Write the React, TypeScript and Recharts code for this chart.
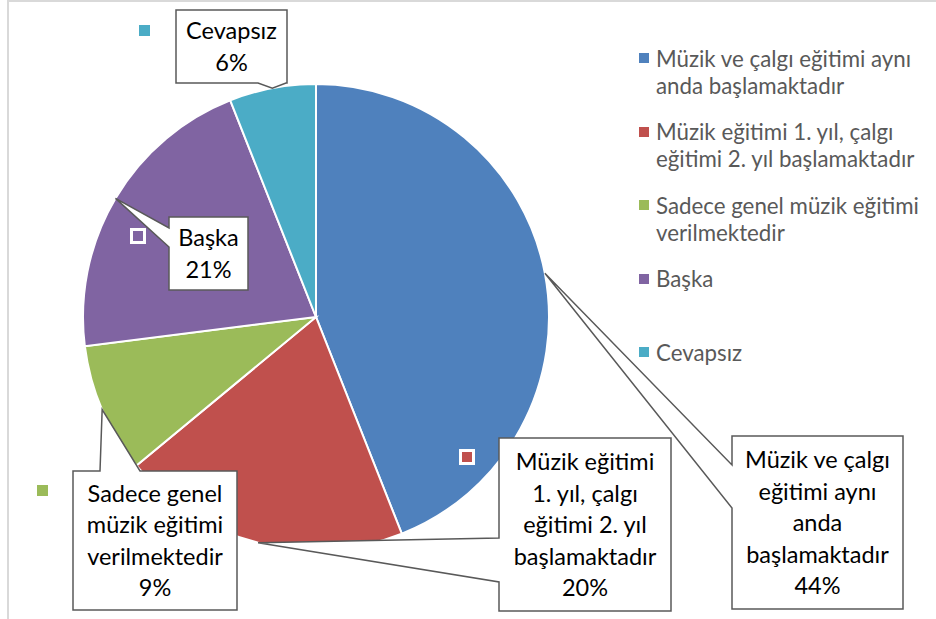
import { PieChart, Pie, Cell, Legend } from 'recharts';

const categories = [
  'Müzik ve çalgı eğitimi aynı anda başlamaktadır',
  'Müzik eğitimi 1. yıl, çalgı eğitimi 2. yıl başlamaktadır',
  'Sadece genel müzik eğitimi verilmektedir',
  'Başka',
  'Cevapsız',
];
const shares = [44, 20, 9, 21, 6];
const colors = ['#4F81BD', '#C0504D', '#9BBB59', '#8064A2', '#4BACC6'];

// line breaks as they appear in the callouts and in the legend
const labelLines = [
  ['Müzik ve çalgı', 'eğitimi aynı', 'anda', 'başlamaktadır'],
  ['Müzik eğitimi', '1. yıl, çalgı', 'eğitimi 2. yıl', 'başlamaktadır'],
  ['Sadece genel', 'müzik eğitimi', 'verilmektedir'],
  ['Başka'],
  ['Cevapsız'],
];
const legendLines = [
  ['Müzik ve çalgı eğitimi aynı', 'anda başlamaktadır'],
  ['Müzik eğitimi 1. yıl, çalgı', 'eğitimi 2. yıl başlamaktadır'],
  ['Sadece genel müzik eğitimi', 'verilmektedir'],
  ['Başka'],
  ['Cevapsız'],
];

const data = categories.map((name, i) => ({ name, value: shares[i] }));

type Callout = {
  x: number;
  y: number;
  w: number;
  h: number;
  side: 'left' | 'top' | 'bottom';
  a: number;
  b: number;
  key: { x: number; y: number; s: number; border: boolean } | null;
};

// manual placement of the callout boxes (like the original)
const callouts: Callout[] = [
  { x: 732, y: 436, w: 171, h: 173, side: 'left', a: 465, b: 508, key: null },
  { x: 499, y: 438, w: 172, h: 173, side: 'left', a: 538, b: 582, key: { x: 459, y: 449, s: 16, border: true } },
  { x: 73, y: 471, w: 164, h: 139, side: 'top', a: 100, b: 140, key: { x: 37, y: 485, s: 11, border: false } },
  { x: 169, y: 217, w: 79, h: 73, side: 'left', a: 228, b: 247, key: { x: 130, y: 228, s: 16, border: true } },
  { x: 176, y: 10, w: 111, h: 73, side: 'bottom', a: 258, b: 286, key: { x: 139, y: 25, s: 11, border: false } },
];

const RADIAN = Math.PI / 180;
const FONT = 'Lato, "Open Sans", sans-serif';

function renderCallout(props: any) {
  const { cx, cy, midAngle, outerRadius, index, percent } = props;
  const c = callouts[index];
  const tx = cx + outerRadius * Math.cos(-midAngle * RADIAN);
  const ty = cy + outerRadius * Math.sin(-midAngle * RADIAN);
  const { x, y, w, h, side, a, b } = c;

  let d = `M${x},${y}`;
  if (side === 'top') d += ` L${a},${y} L${tx},${ty} L${b},${y}`;
  d += ` L${x + w},${y} L${x + w},${y + h}`;
  if (side === 'bottom') d += ` L${b},${y + h} L${tx},${ty} L${a},${y + h}`;
  d += ` L${x},${y + h}`;
  if (side === 'left') d += ` L${x},${b} L${tx},${ty} L${x},${a}`;
  d += ' Z';

  const lines = [...labelLines[index], `${Math.round(percent * 100)}%`];
  const lh = 31.5;
  const first = y + h / 2 - ((lines.length - 1) * lh) / 2 + 8.5;

  return (
    <g key={`callout-${index}`}>
      <path d={d} fill='#fff' stroke='#595959' strokeWidth={1.5} />
      <text
        x={x + w / 2}
        textAnchor='middle'
        fontFamily={FONT}
        fontSize={23.5}
        fill='#000'
      >
        {lines.map((ln, i) => (
          <tspan key={i} x={x + w / 2} y={first + i * lh}>
            {ln}
          </tspan>
        ))}
      </text>
      {c.key && (
        <rect
          x={c.key.x + (c.key.border ? 1.5 : 0)}
          y={c.key.y + (c.key.border ? 1.5 : 0)}
          width={c.key.s - (c.key.border ? 3 : 0)}
          height={c.key.s - (c.key.border ? 3 : 0)}
          fill={colors[index]}
          stroke={c.key.border ? '#fff' : 'none'}
          strokeWidth={3}
        />
      )}
    </g>
  );
}

function LegendBox() {
  return (
    <div style={{ fontFamily: FONT, fontSize: 22.3, color: '#595959' }}>
      {legendLines.map((lines, i) => (
        <div key={i} style={{ position: 'relative', height: 73.5, paddingLeft: 18, lineHeight: '27px' }}>
          <span
            style={{
              position: 'absolute',
              left: 1,
              top: 8.5,
              width: 10,
              height: 10,
              background: colors[i],
            }}
          />
          {lines.map((ln, j) => (
            <div key={j} style={{ whiteSpace: 'nowrap' }}>{ln}</div>
          ))}
        </div>
      ))}
    </div>
  );
}

export default function App() {
  return (
    <div style={{ position: 'absolute', left: 0, top: 0, width: 936, height: 619, background: '#fff', overflow: 'hidden' }}>
      <div
        style={{
          position: 'absolute',
          left: 7,
          top: 0,
          width: 940,
          height: 630,
          borderLeft: '2px solid #d9d9d9',
          borderTop: '2px solid #d9d9d9',
        }}
      />
      <PieChart
        width={936}
        height={619}
        margin={{ top: 0, right: 0, bottom: 0, left: 0 }}
        style={{ position: 'absolute', left: 0, top: 0 }}
      >
        <Pie
          data={data}
          dataKey='value'
          nameKey='name'
          cx={316}
          cy={317}
          outerRadius={233}
          startAngle={90}
          endAngle={-270}
          stroke='#fff'
          strokeWidth={2}
          label={renderCallout}
          labelLine={false}
          isAnimationActive={false}
        >
          {data.map((d, i) => (
            <Cell key={d.name} fill={colors[i]} />
          ))}
        </Pie>
        <Legend
          content={<LegendBox />}
          wrapperStyle={{ position: 'absolute', left: 638, top: 44.5, width: 295 }}
        />
      </PieChart>
    </div>
  );
}
